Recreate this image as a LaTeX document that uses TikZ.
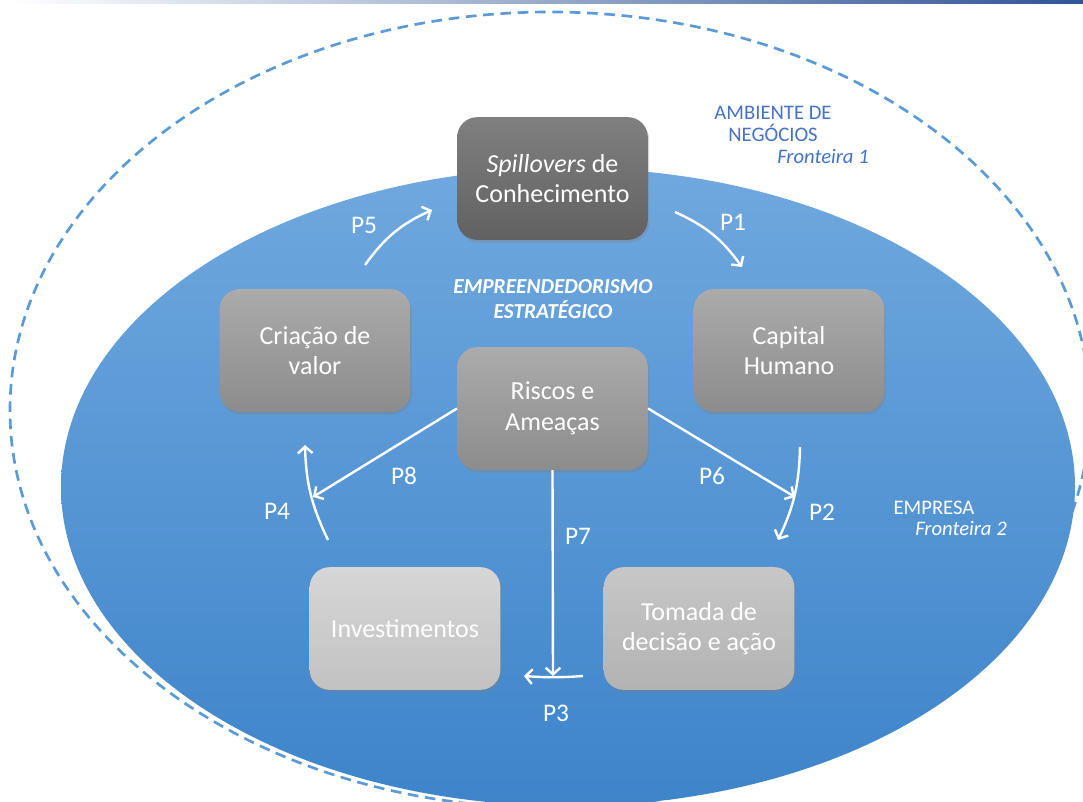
\documentclass[tikz,border=0pt]{standalone}
\usepackage{fontspec}
\setmainfont{Carlito}
\usetikzlibrary{arrows.meta,shadows,positioning}

\definecolor{ambblue}{HTML}{4472C4}
\definecolor{dashblue}{HTML}{5B9BD5}
\definecolor{topblue}{HTML}{2F5597}
\definecolor{ellA}{HTML}{70A8DE}
\definecolor{ellB}{HTML}{3D84CA}

\tikzset{
  caixa/.style={rounded corners=15pt, minimum width=143pt, minimum height=92pt,
    align=center, text=white, font=\fontsize{19.5}{23}\selectfont,
    drop shadow={opacity=0.35,shadow xshift=1pt,shadow yshift=-2pt}},
  seta/.style={white, line width=1.8pt, -{Straight Barb[length=5pt,width=11pt]}},
  rotulo/.style={text=white, font=\fontsize{19}{22}\selectfont},
}

\begin{document}
\begin{tikzpicture}[x=0.75pt,y=-0.75pt]
  \useasboundingbox[fill=white] (0,0) rectangle (1083,801);
  % faixa do topo
  \shade[left color=white, right color=topblue] (10,0) rectangle (1083,3.5);
  % fronteiras
  \draw[dashblue, line width=2pt, dash pattern=on 8pt off 5pt] (550,410) ellipse [x radius=405pt, y radius=298.5pt];
  \shade[top color=ellA, bottom color=ellB] (568,487) ellipse [x radius=380.25pt, y radius=239.25pt];
  % caixas
  \node[caixa, top color=black!50, bottom color=black!62] (spill) at (552.5,178.5) {\textit{Spillovers} de\\Conhecimento};
  \node[caixa, top color=black!33, bottom color=black!45] (criacao) at (315,350.5) {Criação de\\valor};
  \node[caixa, top color=black!33, bottom color=black!45] (capital) at (789,350.5) {Capital\\Humano};
  \node[caixa, top color=black!33, bottom color=black!45] (riscos) at (552.5,408.5) {Riscos e\\Ameaças};
  \node[caixa, top color=black!22, bottom color=black!30] (tomada) at (699,628.5) {Tomada de\\decisão e ação};
  \node[caixa, top color=black!16, bottom color=black!24] (invest) at (405,628.5) {Investimentos};
  % textos
  \node[text=ambblue, align=center, font=\fontsize{15.5}{16.5}\selectfont] (amb) at (773,124) {AMBIENTE DE\\NEGÓCIOS};
  \node[text=ambblue, font=\fontsize{15.5}{16.5}\itshape] (fr1) at (823,156) {Fronteira 1};
  \node[text=white, font=\fontsize{15.5}{16.5}\selectfont] (emp) at (934,508) {EMPRESA};
  \node[text=white, font=\fontsize{15.5}{16.5}\itshape] (fr2) at (961,528) {Fronteira 2};
  \node[text=white, align=center, font=\fontsize{16}{18.75}\bfseries\itshape] (ee) at (553,299) {EMPREENDEDORISMO\\ESTRATÉGICO};
  % pontas livres das setas
  \coordinate (p5a) at (365,265);  \coordinate (p5b) at (432,210);
  \coordinate (p1a) at (675,212);  \coordinate (p1b) at (742,267);
  \coordinate (p2a) at (800,447);  \coordinate (p2b) at (778,540);
  \coordinate (p3a) at (583,676);  \coordinate (p3b) at (524,676);
  \coordinate (p4a) at (328,540);  \coordinate (p4b) at (305,445);
  \coordinate (p6b) at (795,497);
  \coordinate (p8b) at (313,497);
  \coordinate (p7b) at (553,676);
  % setas
  \draw[seta] (p5a) to[bend left=15] (p5b);
  \draw[seta] (p1a) to[bend left=15] (p1b);
  \draw[seta] (p2a) to[bend left=12] (p2b);
  \draw[seta] (p3a) to[bend left=4] (p3b);
  \draw[seta] (p4a) to[bend left=12] (p4b);
  \draw[seta] (riscos.east) -- (p6b);
  \draw[seta] (riscos.west) -- (p8b);
  \draw[seta] (riscos.south) -- (p7b);
  % rotulos
  \node[rotulo] (l1) at (733,222) {P1};
  \node[rotulo] (l2) at (822,512) {P2};
  \node[rotulo] (l3) at (556,713) {P3};
  \node[rotulo] (l4) at (277,511) {P4};
  \node[rotulo] (l5) at (364,225) {P5};
  \node[rotulo] (l6) at (712,476) {P6};
  \node[rotulo] (l7) at (578,536) {P7};
  \node[rotulo] (l8) at (404,476) {P8};
\end{tikzpicture}
\end{document}
